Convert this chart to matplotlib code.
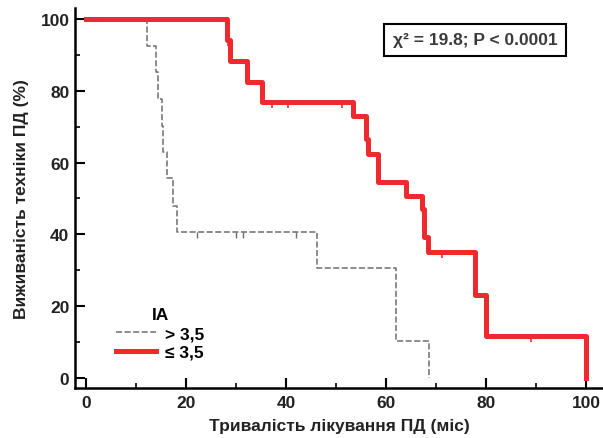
import matplotlib
matplotlib.use("Agg")
import matplotlib.pyplot as plt

plt.rcParams['font.family'] = ['Liberation Sans', 'DejaVu Sans']
plt.rcParams['font.weight'] = 'bold'

# IA > 3,5 group (step curve)
hi_t = [0, 12.1, 14.0, 14.4, 15.1, 15.4, 16.1, 17.4, 18.1, 46.1, 62.0, 68.5]
hi_s = [100, 92.7, 85.2, 77.8, 70.3, 62.9, 55.6, 48.0, 40.7, 30.6, 10.2, 0]
hi_cens_t = [22.1, 30.0, 31.4, 41.9]
hi_cens_s = [40.7, 40.7, 40.7, 40.7]

# IA <= 3,5 group
lo_t = [0, 28.1, 28.8, 32.2, 35.1, 53.4, 56.0, 56.3, 58.4, 64.0, 67.1, 67.5, 68.4, 77.7, 79.9, 100.0]
lo_s = [100, 94.4, 88.3, 82.5, 76.9, 73.1, 66.5, 62.4, 54.7, 50.8, 47.0, 39.2, 35.0, 23.0, 11.7, 0]
lo_cens_t = [28.3, 37.1, 40.3, 51.2, 71.2, 89.0]
lo_cens_s = [94.4, 76.9, 76.9, 76.9, 35.0, 11.7]

stat_text = "χ² = 19.8; P < 0.0001"
x_ticks = [0, 20, 40, 60, 80, 100]
y_ticks = [0, 20, 40, 60, 80, 100]

fig = plt.figure(figsize=(6.03, 4.39), dpi=100)
ax = fig.add_axes([75/603, 1 - 389/439, 528/603, 380/439])

gray = '#6e6e6e'
red = '#ee2a2e'

ax.step(hi_t, hi_s, where='post', color=gray, lw=1.1, ls=(0, (4, 1.6)), label='> 3,5')
ax.plot(hi_cens_t, hi_cens_s, ls='none', marker=3, ms=4, mew=1.0, color=gray)
ax.step(lo_t, lo_s, where='post', color=red, lw=3.6, label='≤ 3,5')
ax.plot(lo_cens_t, lo_cens_s, ls='none', marker=3, ms=4.5, mew=1.2, color=red)

ax.set_xlim(-2.24, 103.3)
ax.set_ylim(-2.93, 103.2)
ax.set_xticks(x_ticks)
ax.set_yticks(y_ticks)
ax.set_xticks(range(10, 100, 20), minor=True)
ax.set_yticks(range(10, 100, 20), minor=True)
ax.tick_params(which='major', direction='in', length=7.5, width=1.5, labelsize=12.5, pad=5)
ax.tick_params(which='minor', direction='in', length=3.8, width=1.2)
ax.tick_params(axis='y', which='major', pad=4)

for s in ['top', 'right']:
    ax.spines[s].set_visible(False)
for s in ['left', 'bottom']:
    ax.spines[s].set_linewidth(1.8)

ax.set_xlabel('Тривалість лікування ПД (міс)', fontsize=12.5, fontweight='bold', color='#222222', labelpad=6)
ax.set_ylabel('Виживаність техніки ПД (%)', fontsize=12.5, fontweight='bold', color='#222222', labelpad=8)
for lab in ax.get_xticklabels() + ax.get_yticklabels():
    lab.set_color('#222222')

leg = ax.legend(loc='upper left', bbox_to_anchor=(0.062, 0.235), frameon=False, title='IA',
                fontsize=12.5, title_fontsize=12.5, handlelength=2.3, handletextpad=0.5,
                borderpad=0, labelspacing=0.2)
leg.get_title().set_fontweight('bold')

ax.text(0.758, 0.916, stat_text, transform=ax.transAxes, ha='center', va='center',
        fontsize=12.5, fontweight='bold', color='#3a3a3a',
        bbox=dict(boxstyle='square,pad=0.5', fc='white', ec='black', lw=1.5))

fig.savefig('out.png', dpi=100)
